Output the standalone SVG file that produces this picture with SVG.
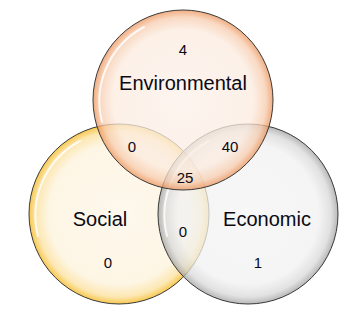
<svg xmlns="http://www.w3.org/2000/svg" width="351" height="314" viewBox="0 0 351 314">
<defs>
<radialGradient id="gEnv" cx="0.5" cy="0.5" r="0.5">
<stop offset="0" stop-color="#FCF1EA"/>
<stop offset="0.78" stop-color="#FBEBDF"/>
<stop offset="0.92" stop-color="#F7CCAE"/>
<stop offset="1" stop-color="#EC9258"/>
</radialGradient>
<radialGradient id="gSoc" cx="0.5" cy="0.5" r="0.5">
<stop offset="0" stop-color="#FDF6E8"/>
<stop offset="0.78" stop-color="#FDF3DC"/>
<stop offset="0.92" stop-color="#FCE09A"/>
<stop offset="1" stop-color="#F5B514"/>
</radialGradient>
<radialGradient id="gEco" cx="0.5" cy="0.5" r="0.5">
<stop offset="0" stop-color="#F4F4F4"/>
<stop offset="0.78" stop-color="#F1F1F1"/>
<stop offset="0.92" stop-color="#D8D8D8"/>
<stop offset="1" stop-color="#A0A0A0"/>
</radialGradient>
</defs>
<style>
.c{stroke:#3A3A3A;stroke-width:1;fill-opacity:0.75}
.hl{fill:none;stroke:#FFFFFF;stroke-width:2;stroke-opacity:0.8;stroke-linecap:round}
.lab{font-family:"Liberation Sans",Arial,sans-serif;font-size:20px;fill:#0A0A14;text-anchor:middle}
.num{font-family:"Liberation Sans",Arial,sans-serif;font-size:15px;fill:#0A0A14;text-anchor:middle}
</style>
<g id="social">
<circle class="c" cx="119" cy="214" r="90" fill="url(#gSoc)"/>
<path class="hl" d="M38,236 A84,84 0 0 1 80,141"/>
</g>
<g id="economic">
<circle class="c" cx="248" cy="214" r="90" fill="url(#gEco)"/>
<path class="hl" d="M167,236 A84,84 0 0 1 209,141"/>
</g>
<g id="environmental">
<circle class="c" cx="183" cy="100" r="90" fill="url(#gEnv)"/>
<path class="hl" d="M102,122 A84,84 0 0 1 144,27"/>
</g>
<g id="labels">
<text class="lab" x="183" y="90">Environmental</text>
<text class="lab" x="100" y="226">Social</text>
<text class="lab" x="267" y="226">Economic</text>
</g>
<g id="counts">
<text class="num" x="183" y="55">4</text>
<text class="num" x="132" y="152">0</text>
<text class="num" x="230" y="152">40</text>
<text class="num" x="185" y="183">25</text>
<text class="num" x="183" y="237">0</text>
<text class="num" x="108" y="268">0</text>
<text class="num" x="258" y="268">1</text>
</g>
</svg>
